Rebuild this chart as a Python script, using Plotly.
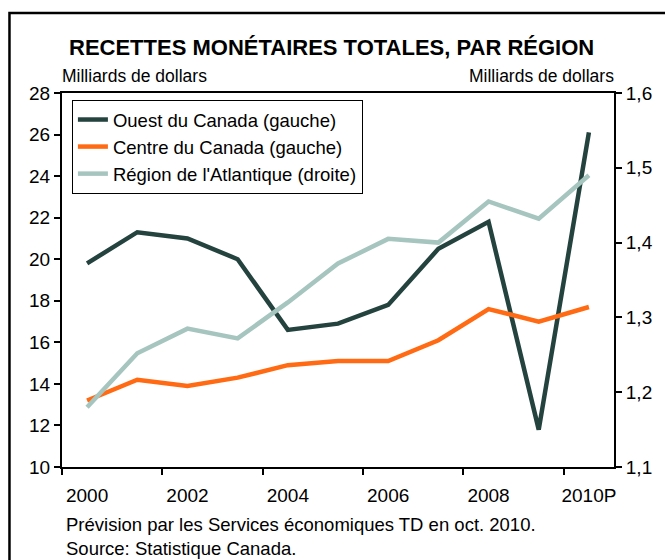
import plotly.graph_objects as go

years = [2000, 2001, 2002, 2003, 2004, 2005, 2006, 2007, 2008, 2009, 2010]
tick_years = [2000, 2002, 2004, 2006, 2008, 2010]
tick_labels = ["2000", "2002", "2004", "2006", "2008", "2010P"]
boundary_ticks = [1999.5, 2001.5, 2003.5, 2005.5, 2007.5, 2009.5]

ouest = [19.8, 21.3, 21.0, 20.0, 16.6, 16.9, 17.8, 20.5, 21.8, 11.8, 26.1]
centre = [13.2, 14.2, 13.9, 14.3, 14.9, 15.1, 15.1, 16.1, 17.6, 17.0, 17.7]
atlantique = [1.18, 1.252, 1.285, 1.272, 1.32, 1.372, 1.405, 1.40, 1.455, 1.432, 1.49]

FONT = "Liberation Sans, Arial, sans-serif"

fig = go.Figure()
fig.add_trace(go.Scatter(x=years, y=ouest, mode="lines", name="Ouest du Canada (gauche)",
                         line=dict(color="#24433f", width=4.5)))
fig.add_trace(go.Scatter(x=years, y=centre, mode="lines", name="Centre du Canada (gauche)",
                         line=dict(color="#ff6a13", width=4.5)))
fig.add_trace(go.Scatter(x=years, y=atlantique, mode="lines", name="Région de l'Atlantique (droite)",
                         line=dict(color="#a6c5be", width=4.5), yaxis="y2"))

L, R, T, B = 62, 46, 93, 93
W, H = 665, 560
pw, ph = W - L - R, H - T - B

def px(x):
    return (x - L) / pw

def py(y):
    return (H - B - y) / ph

fig.update_layout(
    width=W, height=H,
    margin=dict(l=L, r=R, t=T, b=B),
    paper_bgcolor="white", plot_bgcolor="white",
    separators=", ",
    font=dict(family=FONT, size=19, color="black"),
    showlegend=True,
    legend=dict(x=px(72), y=py(100), xanchor="left", yanchor="top",
                bordercolor="black", borderwidth=1, bgcolor="white",
                font=dict(size=18.5, family=FONT), tracegroupgap=0),
    xaxis=dict(range=[1999.5, 2010.5], tickvals=tick_years, ticktext=tick_labels,
               ticks="outside", ticklen=10, tickcolor="rgba(0,0,0,0)",
               showline=True, linecolor="black", linewidth=2, mirror=True,
               showgrid=False, zeroline=False,
               minor=dict(tickvals=boundary_ticks, ticks="outside", ticklen=6,
                          tickwidth=2, tickcolor="black", showgrid=False),
               tickfont=dict(size=19)),
    yaxis=dict(range=[10, 28], dtick=2, tick0=10, ticks="outside", ticklen=6, tickwidth=2,
               tickcolor="black", showline=True, linecolor="black", linewidth=2,
               showgrid=False, zeroline=False, tickfont=dict(size=19)),
    yaxis2=dict(range=[1.1, 1.6], dtick=0.1, tick0=1.1, tickformat=".1f", overlaying="y",
                side="right", ticks="outside", ticklen=6, tickwidth=2, tickcolor="black",
                showline=True, linecolor="black", linewidth=2, showgrid=False,
                zeroline=False, tickfont=dict(size=19)),
)

fig.add_shape(type="rect", xref="paper", yref="paper",
              x0=px(9), x1=px(675), y0=py(575), y1=py(13),
              line=dict(color="black", width=2.5), fillcolor="rgba(0,0,0,0)", layer="above")

fig.add_annotation(text="<b>RECETTES MONÉTAIRES TOTALES, PAR RÉGION</b>", xref="paper", yref="paper",
                   x=px(334), y=py(48), showarrow=False, xanchor="center", yanchor="middle",
                   font=dict(size=22, family=FONT))
fig.add_annotation(text="Milliards de dollars", xref="paper", yref="paper",
                   x=px(60), y=py(76), showarrow=False, xanchor="left", yanchor="middle",
                   font=dict(size=17.5, family=FONT))
fig.add_annotation(text="Milliards de dollars", xref="paper", yref="paper",
                   x=px(621), y=py(76), showarrow=False, xanchor="right", yanchor="middle",
                   font=dict(size=17.5, family=FONT))
fig.add_annotation(text="Prévision par les Services économiques TD en oct. 2010.", xref="paper", yref="paper",
                   x=px(64), y=py(524), showarrow=False, xanchor="left", yanchor="middle",
                   font=dict(size=18.5, family=FONT))
fig.add_annotation(text="Source: Statistique Canada.", xref="paper", yref="paper",
                   x=px(64), y=py(548), showarrow=False, xanchor="left", yanchor="middle",
                   font=dict(size=18.5, family=FONT))

fig.write_html("out.html", config={"displayModeBar": False},
               post_script="document.body.style.margin='0';document.body.style.overflow='hidden';")
